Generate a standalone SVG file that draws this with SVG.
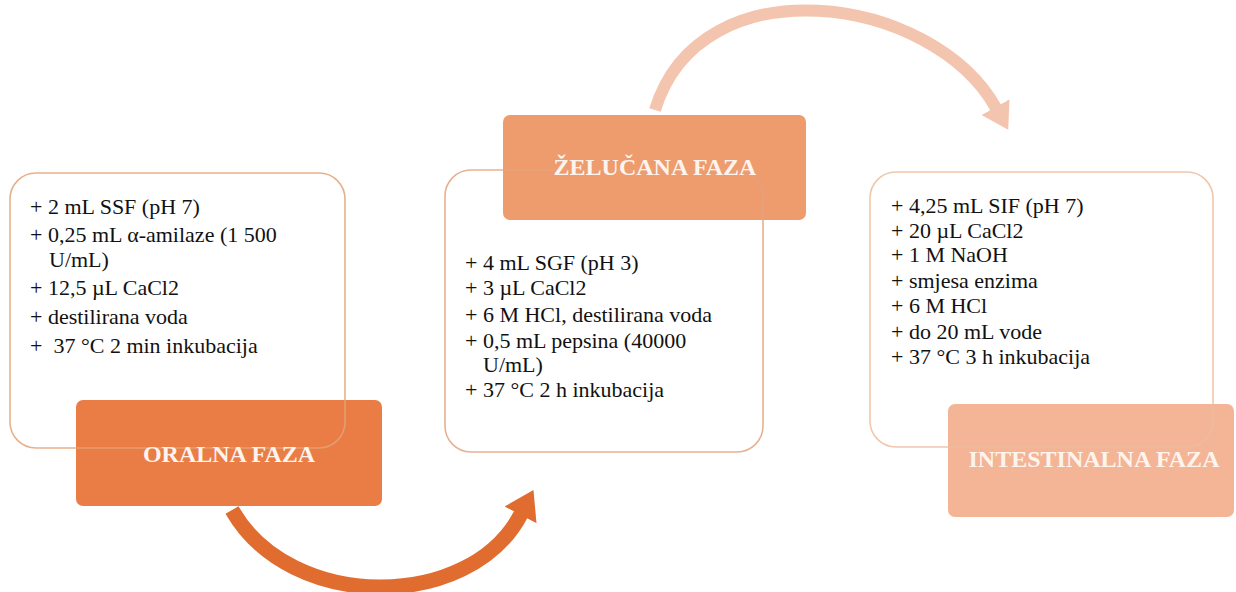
<svg xmlns="http://www.w3.org/2000/svg" width="1236" height="592" viewBox="0 0 1236 592">
<style>
.txt{font-family:"Liberation Serif","Times New Roman",serif;font-size:22px;fill:#111;}
.lbl{font-family:"Liberation Serif","Times New Roman",serif;font-size:24px;font-weight:bold;fill:#fdf4ee;text-anchor:middle;}
.box{fill:#fff;stroke:none;}
.outline{fill:none;stroke-width:1.6;}
</style>
<defs>
<marker id="headDark" markerUnits="userSpaceOnUse" markerWidth="28" markerHeight="36" refX="1" refY="18" orient="auto">
<path d="M0,0 L28,18 L0,36 z" fill="#E06D2F"/>
</marker>
<marker id="headLight" markerUnits="userSpaceOnUse" markerWidth="26" markerHeight="32" refX="1" refY="16" orient="auto">
<path d="M0,0 L26,16 L0,32 z" fill="#F3C4AE"/>
</marker>
</defs>
<rect width="1236" height="592" fill="#fff"/>
<g id="connectors">
<path d="M232,510 C290,612 470,612 521,514" fill="none" stroke="#E06D2F" stroke-width="15" marker-end="url(#headDark)"/>
<path d="M655,110 C700,-38 932,-6 996,108" fill="none" stroke="#F3C4AE" stroke-width="12" marker-end="url(#headLight)"/>
</g>
<g id="oralna">
<rect class="box" x="10" y="173" width="335" height="275" rx="26"/>
<rect x="76" y="400" width="306" height="106" rx="7" fill="#EA7D45"/>
<rect class="outline" x="10" y="173" width="335" height="275" rx="26" stroke="#E3A277" stroke-opacity="0.85"/>
<text class="lbl" x="229" y="462">ORALNA FAZA</text>
<text class="txt" x="30" y="214">+ 2 mL SSF (pH 7)</text>
<text class="txt" x="30" y="242">+ 0,25 mL α-amilaze (1 500</text>
<text class="txt" x="49" y="267">U/mL)</text>
<text class="txt" x="30" y="295">+ 12,5 µL CaCl2</text>
<text class="txt" x="30" y="324">+ destilirana voda</text>
<text class="txt" x="30" y="353">+&#160; 37 °C 2 min inkubacija</text>
</g>
<g id="zelucana">
<rect class="box" x="445" y="170" width="318" height="282" rx="26"/>
<rect x="503" y="115" width="303" height="105" rx="7" fill="#EE9B6D"/>
<rect class="outline" x="445" y="170" width="318" height="282" rx="26" stroke="#E3A27F" stroke-opacity="0.85"/>
<text class="lbl" x="655" y="175">ŽELUČANA FAZA</text>
<text class="txt" x="465" y="270">+ 4 mL SGF (pH 3)</text>
<text class="txt" x="465" y="295">+ 3 µL CaCl2</text>
<text class="txt" x="465" y="322">+ 6 M HCl, destilirana voda</text>
<text class="txt" x="465" y="348">+ 0,5 mL pepsina (40000</text>
<text class="txt" x="483" y="372">U/mL)</text>
<text class="txt" x="465" y="397">+ 37 °C 2 h inkubacija</text>
</g>
<g id="intestinalna">
<rect class="box" x="870" y="172" width="343" height="275" rx="26"/>
<rect x="948" y="404" width="286" height="113" rx="7" fill="#F3B595"/>
<rect class="outline" x="870" y="172" width="343" height="275" rx="26" stroke="#EDBC9F" stroke-opacity="0.85"/>
<text class="lbl" x="1094" y="467">INTESTINALNA FAZA</text>
<text class="txt" x="891" y="213">+ 4,25 mL SIF (pH 7)</text>
<text class="txt" x="891" y="238">+ 20 µL CaCl2</text>
<text class="txt" x="891" y="262">+ 1 M NaOH</text>
<text class="txt" x="891" y="288">+ smjesa enzima</text>
<text class="txt" x="891" y="313">+ 6 M HCl</text>
<text class="txt" x="891" y="339">+ do 20 mL vode</text>
<text class="txt" x="891" y="364">+ 37 °C 3 h inkubacija</text>
</g>
</svg>
